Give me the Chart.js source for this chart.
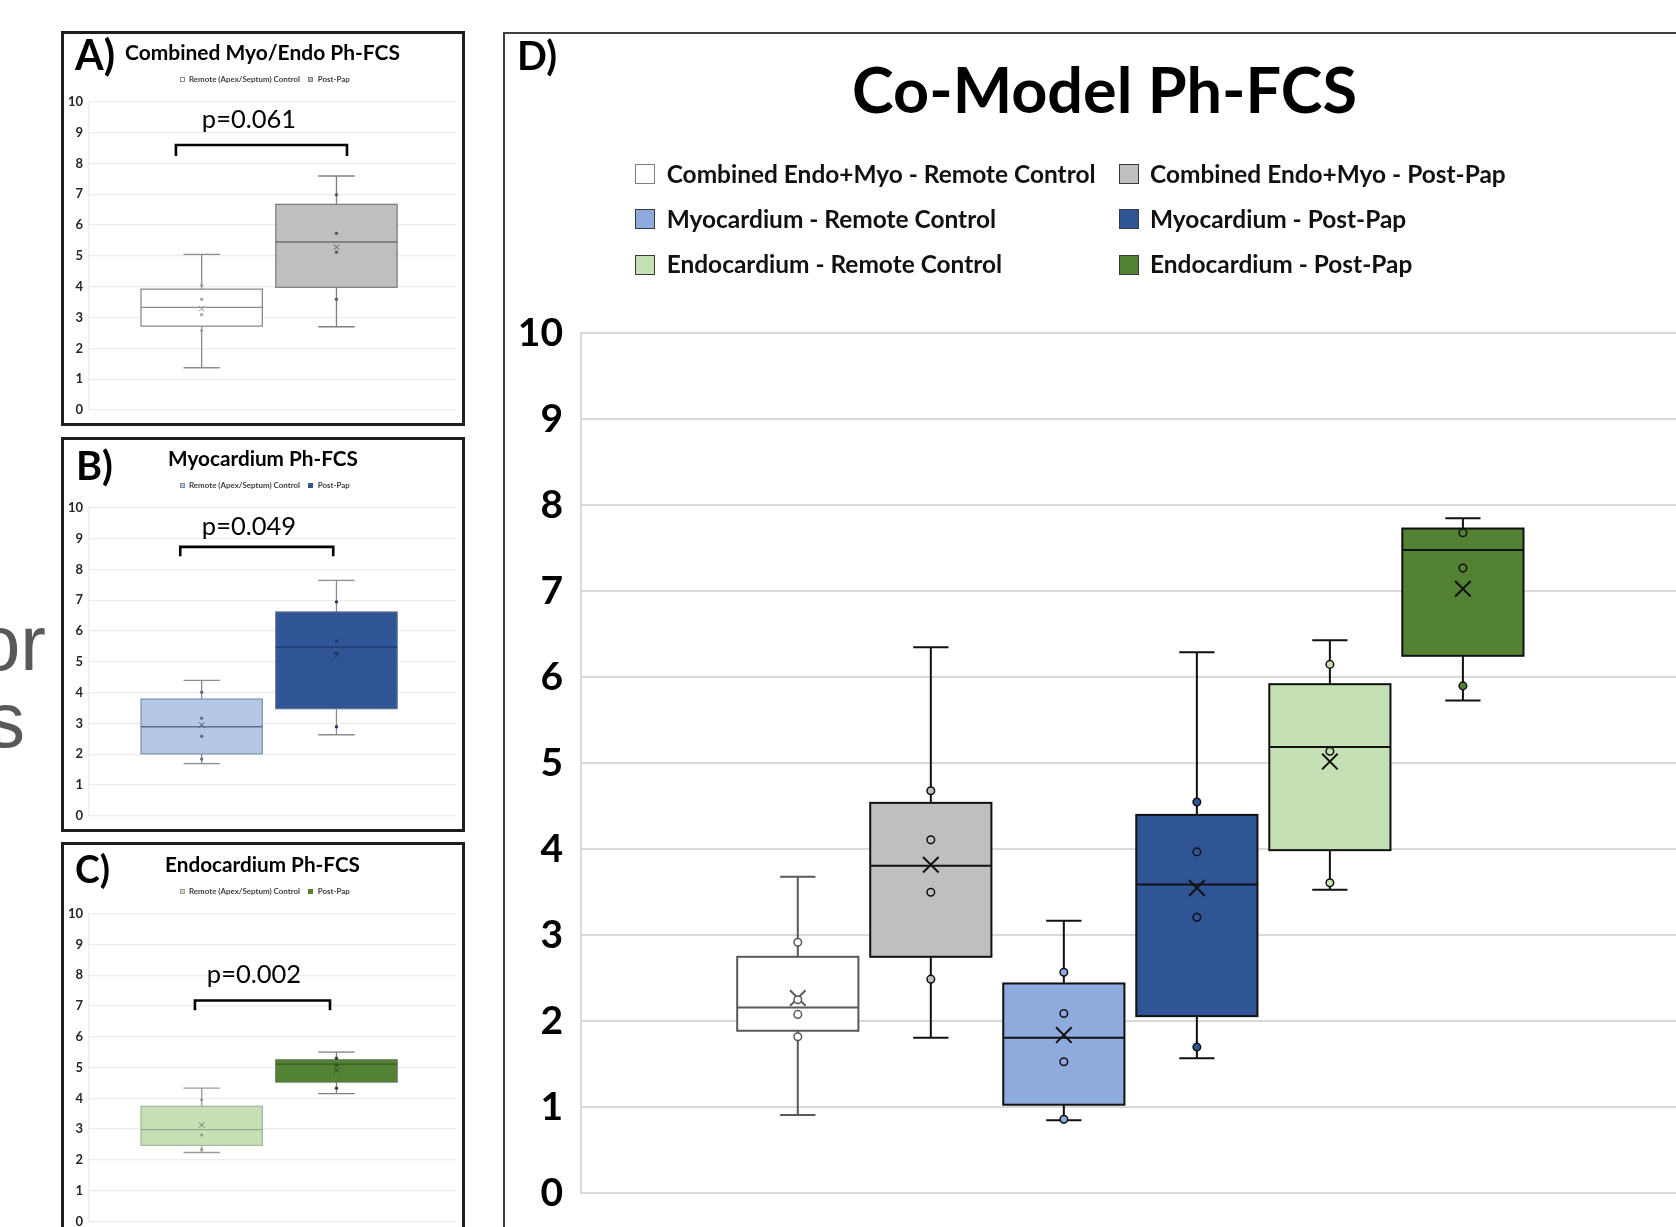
<!DOCTYPE html>
<html><head><meta charset="utf-8">
<script src="https://cdn.jsdelivr.net/npm/chart.js@4.4.1/dist/chart.umd.min.js"></script>
<style>
html,body{margin:0;padding:0;background:#fff;}
body{width:1676px;height:1227px;overflow:hidden;position:relative;font-family:Lato,'Open Sans',sans-serif;}
.abs{position:absolute;white-space:nowrap;line-height:1;}
.frame{position:absolute;box-sizing:border-box;}
.sq{position:absolute;box-sizing:border-box;}
canvas{position:absolute;}
</style></head><body>
<div class="frame" style="left:61px;top:31px;width:404px;height:395px;border:3px solid #1e1e1e;"></div>
<div class="frame" style="left:61px;top:436.5px;width:404px;height:395px;border:3px solid #1e1e1e;"></div>
<div class="frame" style="left:61px;top:842px;width:404px;height:500px;border:3px solid #1e1e1e;"></div>
<div class="frame" style="left:503px;top:31.5px;width:1400px;height:1400px;border-left:2px solid #404040;border-top:2px solid #404040;"></div>

<canvas id="cA" width="464" height="393" style="left:0px;top:32px;"></canvas>
<canvas id="cB" width="464" height="393" style="left:0px;top:437.7px;"></canvas>
<canvas id="cC" width="464" height="400" style="left:0px;top:843.3px;"></canvas>
<canvas id="cD" width="1190" height="1260" style="left:503px;top:0px;"></canvas>

<script>
// ---------------- DATA ----------------
const yTickLabels = ['0','1','2','3','4','5','6','7','8','9','10'];
const smallCats = ['Remote (Apex/Septum) Control', 'Post-Pap'];

// Panel A - Combined Myo/Endo Ph-FCS
const minA  = [1.37, 2.70];
const q1A   = [2.72, 3.98];
const medA  = [3.33, 5.45];
const q3A   = [3.92, 6.67];
const maxA  = [5.05, 7.59];
const meanA = [3.29, 5.28];
const ptsA  = [[4.05, 3.59, 3.09, 2.57], [6.98, 5.73, 5.12, 3.59]];

// Panel B - Myocardium Ph-FCS
const minB  = [1.69, 2.63];
const q1B   = [2.01, 3.48];
const medB  = [2.89, 5.48];
const q3B   = [3.79, 6.62];
const maxB  = [4.40, 7.65];
const meanB = [2.95, 5.22];
const ptsB  = [[4.01, 3.17, 2.58, 1.84], [6.95, 5.68, 5.28, 2.89]];

// Panel C - Endocardium Ph-FCS
const minC  = [2.24, 4.15];
const q1C   = [2.47, 4.53];
const medC  = [2.98, 5.11];
const q3C   = [3.74, 5.25];
const maxC  = [4.33, 5.50];
const meanC = [3.13, 4.91];
const ptsC  = [[3.95, 2.81, 2.33], [5.30, 5.08, 4.33]];

// Panel D - Co-Model Ph-FCS
const catsD = ['Combined Endo+Myo - Remote Control', 'Combined Endo+Myo - Post-Pap',
               'Myocardium - Remote Control', 'Myocardium - Post-Pap',
               'Endocardium - Remote Control', 'Endocardium - Post-Pap'];
const minD  = [0.91, 1.81, 0.85, 1.57, 3.53, 5.73];
const q1D   = [1.89, 2.75, 1.03, 2.06, 3.99, 6.25];
const medD  = [2.16, 3.81, 1.81, 3.59, 5.19, 7.48];
const q3D   = [2.75, 4.54, 2.44, 4.40, 5.92, 7.73];
const maxD  = [3.68, 6.35, 3.17, 6.29, 6.43, 7.85];
const meanD = [2.27, 3.82, 1.84, 3.55, 5.02, 7.03];
const ptsD  = [[2.92, 2.25, 2.08, 1.82], [4.68, 4.11, 3.50, 2.49], [2.57, 2.09, 1.53, 0.86],
               [4.55, 3.97, 3.21, 1.70], [6.15, 5.14, 3.61], [7.68, 7.27, 5.90]];

const pValues = ['p=0.061', 'p=0.049', 'p=0.002'];
const panelTitles = ['Combined Myo/Endo Ph-FCS', 'Myocardium Ph-FCS', 'Endocardium Ph-FCS', 'Co-Model Ph-FCS'];

// ---------------- STYLES ----------------
const colorsD  = ['#ffffff', '#bfbfbf', '#8faadc', '#2f5597', '#c5e0b4', '#548235'];
const strokeD  = ['#595959', '#111111', '#111111', '#111111', '#111111', '#111111'];

// ---------------- HELPERS ----------------
function pointData(pts) {
  const d = [];
  pts.forEach((arr, i) => arr.forEach(v => d.push({x: i + 1, y: v})));
  return d;
}
function flatColors(pts, colors) {
  const c = [];
  pts.forEach((arr, i) => arr.forEach(() => c.push(colors[i])));
  return c;
}
function makeBoxPlugin(o) {
  return {
    id: 'boxplot',
    beforeDatasetsDraw(chart) {
      const ctx = chart.ctx, xs = chart.scales.x, ys = chart.scales.y;
      const unit = xs.getPixelForValue(2) - xs.getPixelForValue(1);
      ctx.save();
      o.min.forEach((_, i) => {
        const xc = xs.getPixelForValue(i + 1);
        const hw = unit * o.bw / 2, cw = unit * o.cw / 2;
        const yMin = ys.getPixelForValue(o.min[i]), yQ1 = ys.getPixelForValue(o.q1[i]);
        const yMed = ys.getPixelForValue(o.med[i]), yQ3 = ys.getPixelForValue(o.q3[i]);
        const yMax = ys.getPixelForValue(o.max[i]);
        ctx.lineWidth = o.lw;
        ctx.lineCap = 'butt';
        ctx.strokeStyle = o.whisker[i];
        ctx.beginPath();
        ctx.moveTo(xc, yQ3); ctx.lineTo(xc, yMax);
        ctx.moveTo(xc - cw, yMax); ctx.lineTo(xc + cw, yMax);
        ctx.moveTo(xc, yQ1); ctx.lineTo(xc, yMin);
        ctx.moveTo(xc - cw, yMin); ctx.lineTo(xc + cw, yMin);
        ctx.stroke();
        ctx.fillStyle = o.fill[i];
        ctx.fillRect(xc - hw, yQ3, 2 * hw, yQ1 - yQ3);
        ctx.strokeStyle = o.stroke[i];
        ctx.strokeRect(xc - hw, yQ3, 2 * hw, yQ1 - yQ3);
        ctx.strokeStyle = o.median[i];
        ctx.beginPath();
        ctx.moveTo(xc - hw, yMed); ctx.lineTo(xc + hw, yMed);
        ctx.stroke();
      });
      if (o.bracket) {
        const b = o.bracket;
        const x1 = xs.getPixelForValue(b.x1), x2 = xs.getPixelForValue(b.x2);
        const y1 = ys.getPixelForValue(b.y), y2 = ys.getPixelForValue(b.y2);
        ctx.strokeStyle = '#000';
        ctx.lineWidth = b.lw;
        ctx.lineJoin = 'miter';
        ctx.beginPath();
        ctx.moveTo(x1, y2); ctx.lineTo(x1, y1); ctx.lineTo(x2, y1); ctx.lineTo(x2, y2);
        ctx.stroke();
      }
      ctx.restore();
    }
  };
}
function makeChart(id, cfg) {
  const cv = document.getElementById(id);
  return new Chart(cv.getContext('2d'), {
    type: 'scatter',
    data: { datasets: [
      { data: pointData(cfg.pts), pointRadius: cfg.pr, pointBorderWidth: cfg.pbw,
        pointBackgroundColor: flatColors(cfg.pts, cfg.ptFill),
        pointBorderColor: flatColors(cfg.pts, cfg.ptStroke) },
      { data: cfg.mean.map((v, i) => ({x: i + 1, y: v})), pointStyle: 'crossRot',
        pointRadius: cfg.mr, pointBorderWidth: cfg.mbw,
        pointBorderColor: cfg.meanColor, pointBackgroundColor: 'rgba(0,0,0,0)' }
    ]},
    options: {
      responsive: false, animation: false, events: [],
      layout: { padding: cfg.pad },
      plugins: { legend: { display: false }, tooltip: { enabled: false } },
      scales: {
        x: { type: 'linear', min: cfg.xmin, max: cfg.xmax, display: false },
        y: { min: 0, max: 10,
             afterFit(s) { s.width = cfg.yw; },
             ticks: { stepSize: 1, autoSkip: false, padding: cfg.tp, color: cfg.tc,
                      font: { family: 'Lato', weight: 'bold', size: cfg.ts },
                      callback: (v, i) => yTickLabels[i] },
             grid: { color: cfg.gc, lineWidth: cfg.gw, drawTicks: false },
             border: { display: true, color: cfg.gc, width: cfg.gw } }
      }
    },
    plugins: [makeBoxPlugin(cfg.box)]
  });
}

const smallBase = { yw: 88.3, tp: 5.3, ts: 13, tc: '#262626', gc: '#ececec', gw: 1.3,
                    xmin: 0.159, xmax: 2.892, pr: 1.7, pbw: 0, mr: 3.8, mbw: 1 };

makeChart('cA', Object.assign({}, smallBase, {
  pad: { top: 69.7, bottom: 15, left: 0, right: 7.3 },
  pts: ptsA, mean: meanA, ptFill: ['#a6a6a6', '#595959'], ptStroke: ['#a6a6a6', '#595959'],
  meanColor: ['#8c8c8c', '#595959'],
  box: { min: minA, q1: q1A, med: medA, q3: q3A, max: maxA,
         fill: ['#ffffff', '#bfbfbf'], stroke: ['#8c8c8c', '#7f7f7f'], whisker: ['#8c8c8c', '#7f7f7f'],
         median: ['#8c8c8c', '#6f6f6f'], lw: 1.3, bw: 0.90, cw: 0.27,
         bracket: { x1: 0.809, x2: 2.078, y: 8.595, y2: 8.239, lw: 2.6 } }
}));
makeChart('cB', Object.assign({}, smallBase, {
  pad: { top: 70, bottom: 15.3, left: 0, right: 7.3 },
  pts: ptsB, mean: meanB, ptFill: ['#5a6f91', '#1f3864'], ptStroke: ['#5a6f91', '#1f3864'],
  meanColor: ['#44546a', '#1f3864'],
  box: { min: minB, q1: q1B, med: medB, q3: q3B, max: maxB,
         fill: ['#b4c7e7', '#2f5597'], stroke: ['#8497b0', '#5a6f91'], whisker: ['#8c8c8c', '#8c8c8c'],
         median: ['#5a6f91', '#1f3864'], lw: 1.3, bw: 0.90, cw: 0.27,
         bracket: { x1: 0.841, x2: 1.976, y: 8.735, y2: 8.433, lw: 2.6 } }
}));
makeChart('cC', Object.assign({}, smallBase, {
  pad: { top: 70.7, bottom: 21.6, left: 0, right: 7.3 },
  pts: ptsC, mean: meanC, ptFill: ['#93a887', '#2b4a1c'], ptStroke: ['#93a887', '#2b4a1c'],
  meanColor: ['#6b7f60', '#2b4a1c'],
  box: { min: minC, q1: q1C, med: medC, q3: q3C, max: maxC,
         fill: ['#c5e0b4', '#548235'], stroke: ['#a9b8a0', '#5e7a4f'], whisker: ['#9a9a9a', '#7f7f7f'],
         median: ['#93a887', '#385723'], lw: 1.3, bw: 0.90, cw: 0.27,
         bracket: { x1: 0.950, x2: 1.952, y: 7.18, y2: 6.86, lw: 2.6 } }
}));
makeChart('cD', {
  pad: { top: 333.3, bottom: 66.7, left: 0, right: 10.5 },
  yw: 77.7, tp: 17.7, ts: 39, tc: '#000', gc: '#d9d9d9', gw: 2,
  xmin: -0.632, xmax: 7.632,
  pts: ptsD, mean: meanD, pr: 3.8, pbw: 1.5, ptFill: colorsD, ptStroke: strokeD,
  mr: 11, mbw: 2, meanColor: strokeD,
  box: { min: minD, q1: q1D, med: medD, q3: q3D, max: maxD,
         fill: colorsD, stroke: strokeD, whisker: strokeD, median: strokeD,
         lw: 2, bw: 0.911, cw: 0.265 }
});

// ---------------- TEXT & LEGENDS ----------------
function sq(x, y, s, fill, border, bw) {
  const d = document.createElement('div');
  d.className = 'sq';
  d.style.cssText += `left:${x}px;top:${y}px;width:${s}px;height:${s}px;background:${fill};border:${bw}px solid ${border};`;
  document.body.appendChild(d);
}
// small legends
sq(180, 77, 5, '#ffffff', '#8c8c8c', 1);   sq(308, 77, 5, '#bfbfbf', '#7f7f7f', 1);
sq(180, 483.3, 5, '#b4c7e7', '#7f8fa6', 1); sq(308, 483.3, 5, '#2f5597', '#2f5597', 1);
sq(180, 889, 5, '#c5e0b4', '#9aaa90', 1);   sq(308, 889, 5, '#548235', '#548235', 1);
// D legend
const legX = [635, 1119], legY = [163.5, 209, 255];
catsD.forEach((c, i) => {
  sq(legX[i % 2], legY[Math.floor(i / 2)], 20, colorsD[i], i === 0 ? '#7f7f7f' : '#3a3a3a', 1.5);
});

const labels = [
  {t: 'A)', x: 75, b: 70, s: 37, fit: 40},
  {t: panelTitles[0], x: 262.5, b: 60, s: 21, a: 'center', fit: 275},
  {t: smallCats[0], x: 189, b: 82, s: 8, c: '#404040', fit: 113, g: 'sl'},
  {t: smallCats[1], x: 317.7, b: 82, s: 8, c: '#404040', fit: 30.3, g: 'sl'},
  {t: pValues[0], x: 249, b: 128.3, s: 25, w: 400, a: 'center', fit: 94, g: 'p'},

  {t: 'B)', x: 76, b: 480, s: 37, fit: 37},
  {t: panelTitles[1], x: 263, b: 465.7, s: 21, a: 'center', fit: 190},
  {t: smallCats[0], x: 189, b: 488, s: 8, c: '#404040', fit: 113, g: 'sl'},
  {t: smallCats[1], x: 317.7, b: 488, s: 8, c: '#404040', fit: 30.3, g: 'sl'},
  {t: pValues[1], x: 249, b: 535, s: 25, w: 400, a: 'center', fit: 94, g: 'p'},

  {t: 'C)', x: 75, b: 883, s: 37, fit: 35},
  {t: panelTitles[2], x: 262.5, b: 871.7, s: 21, a: 'center', fit: 195},
  {t: smallCats[0], x: 189, b: 893.6, s: 8, c: '#404040', fit: 113, g: 'sl'},
  {t: smallCats[1], x: 317.7, b: 893.6, s: 8, c: '#404040', fit: 30.3, g: 'sl'},
  {t: pValues[2], x: 254, b: 982.7, s: 25, w: 400, a: 'center', fit: 95, g: 'p'},

  {t: 'D)', x: 517, b: 70, s: 39, fit: 40},
  {t: panelTitles[3], x: 1104.5, b: 113, s: 60, a: 'center', fit: 505},
  {t: catsD[0], x: 666.7, b: 183.3, s: 26, c: '#111', fit: 432, g: 'ld'},
  {t: catsD[1], x: 1150,  b: 183.3, s: 26, c: '#111', fit: 352.7, g: 'ld'},
  {t: catsD[2], x: 666.7, b: 228.3, s: 26, c: '#111', fit: 332, g: 'ld'},
  {t: catsD[3], x: 1150,  b: 228.3, s: 26, c: '#111', fit: 254, g: 'ld'},
  {t: catsD[4], x: 666.7, b: 273.3, s: 26, c: '#111', fit: 338, g: 'ld'},
  {t: catsD[5], x: 1150,  b: 273.3, s: 26, c: '#111', fit: 260, g: 'ld'},

  {t: 'or', x: 46, b: 670, s: 77, w: 400, c: '#595959', a: 'right', f: "'Liberation Sans', Arial, sans-serif"},
  {t: 's',  x: 25, b: 747, s: 77, w: 400, c: '#595959', a: 'right', f: "'Liberation Sans', Arial, sans-serif"}
];

function placeLabels(list) {
  const els = list.map(L => {
    const d = document.createElement('div');
    d.className = 'abs';
    d.textContent = L.t;
    d.style.fontFamily = L.f || "Lato, 'Open Sans', sans-serif";
    d.style.fontWeight = L.w || 700;
    d.style.fontSize = L.s + 'px';
    d.style.color = L.c || '#000';
    d.style.left = '0px'; d.style.top = '0px';
    const m = document.createElement('span');
    m.style.cssText = 'display:inline-block;width:0;height:0;vertical-align:baseline;';
    d.appendChild(m);
    document.body.appendChild(d);
    return {L, d, m};
  });
  const groups = {};
  els.forEach((e, i) => {
    if (!e.L.fit) return;
    const k = e.L.g || ('i' + i);
    if (!groups[k]) groups[k] = {t: 0, m: 0, items: []};
    groups[k].t += e.L.fit;
    groups[k].m += e.d.getBoundingClientRect().width;
    groups[k].items.push(e);
  });
  Object.values(groups).forEach(g => {
    const k = g.t / g.m;
    g.items.forEach(e => { e.L.s *= k; e.d.style.fontSize = e.L.s + 'px'; });
  });
  els.forEach(e => {
    const w = e.d.getBoundingClientRect().width;
    const bo = e.m.offsetTop;
    let x = e.L.x;
    if (e.L.a === 'center') x -= w / 2;
    else if (e.L.a === 'right') x -= w;
    e.d.style.left = x + 'px';
    e.d.style.top = (e.L.b - bo) + 'px';
  });
}
placeLabels(labels);
</script>
</body></html>
